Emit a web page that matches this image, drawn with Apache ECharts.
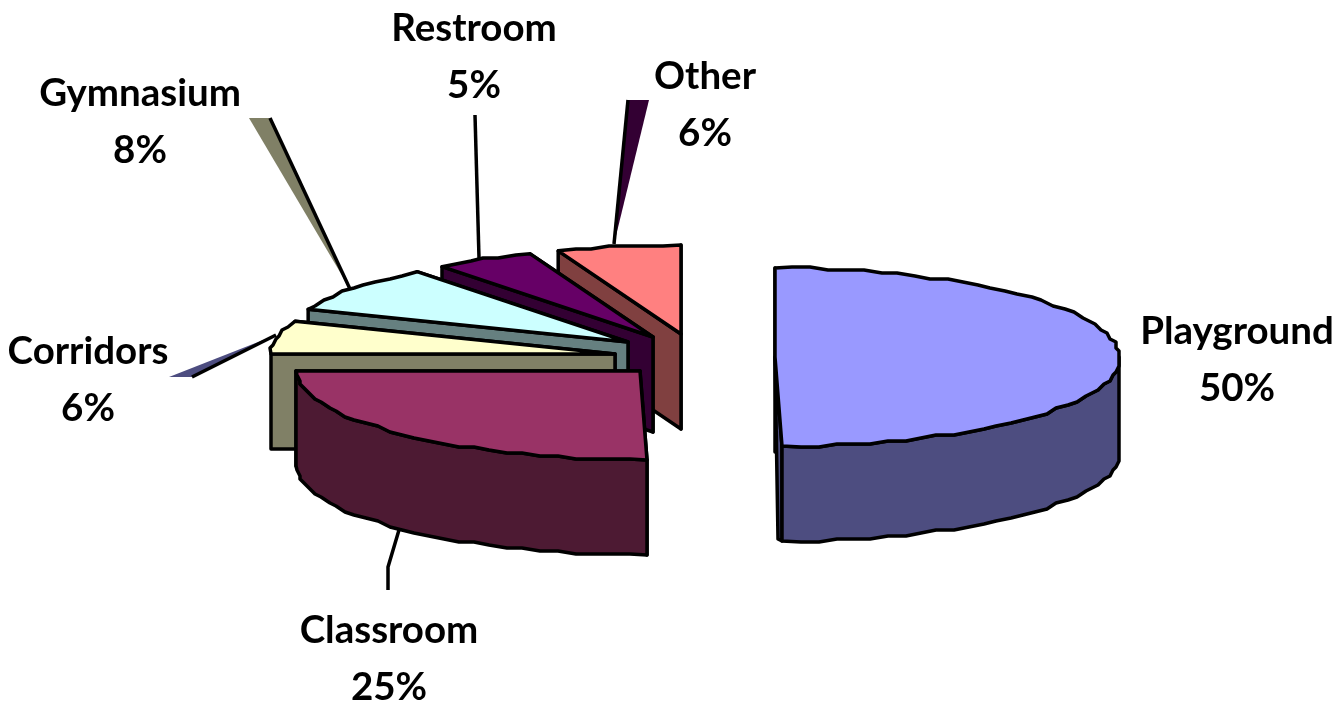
<!DOCTYPE html>
<html>
<head>
<meta charset="utf-8">
<style>html,body{margin:0;padding:0;background:#fff}#c{width:1337px;height:701px}</style>
<script src="https://cdn.jsdelivr.net/npm/echarts@6/dist/echarts.min.js"></script>
</head>
<body>
<div id="c"></div>
<script>
// --- data ---
const categories = ['Playground', 'Classroom', 'Corridors', 'Gymnasium', 'Restroom', 'Other'];
const values = [50, 25, 6, 8.49, 4.7, 5.81];

// --- styles ---
const topColors = ['#9999FF', '#993366', '#FFFFCC', '#CCFFFF', '#660066', '#FF8080'];
const sideColors = ['#4D4D80', '#4D1A33', '#808066', '#668080', '#330033', '#804040'];

// --- layout: exploded slice centres, label centres, callouts ---
const sliceCentreX = [775, 640, 615, 628, 653, 681];
const sliceCentreY = [357, 371, 354, 342, 337, 334];
const labelX = [1237, 389, 88, 140, 474, 705];
const labelY = [360, 659, 380, 122, 57, 105];
const wedgeFill = [null, null, '#4D4D80', '#808066', null, '#330033'];
const leaderPaths = [
  null,
  [[399, 530], [388, 567], [388, 590]],
  [[192, 377], [276, 335]],
  [[270, 118], [350, 289]],
  [[475, 115], [479, 258]],
  [[628, 100], [614, 244]]
];
const wedgeBase = [null, null, [169, 377], [249, 118], null, [649, 100]];
const RX = 344, RY = 89, DEPTH = 95, SKEW = 7, STEP = 3, EDGE = 3.5;

const total = values.reduce((a, b) => a + b, 0);
const rad = d => d * Math.PI / 180;

function rimPoint(i, deg) {
  const t = rad(deg);
  return [
    sliceCentreX[i] + RX * Math.sin(t) + SKEW * Math.max(0, -Math.cos(t)),
    sliceCentreY[i] - RY * Math.cos(t)
  ];
}
function arc(i, a0, a1) {
  // slightly stepped outline, as in the source raster
  const pts = [rimPoint(i, a0)];
  const n = Math.max(1, Math.round(Math.abs(a1 - a0) / 3));
  for (let k = 1; k < n; k++) {
    const p = rimPoint(i, a0 + (a1 - a0) * k / n);
    pts.push([Math.round(p[0] / STEP) * STEP, Math.round(p[1] / STEP) * STEP]);
  }
  pts.push(rimPoint(i, a1));
  return pts;
}
const down = p => [p[0], p[1] + DEPTH];

function renderItem(params, api) {
  const i = params.dataIndex;
  let before = 0;
  for (let k = 0; k < i; k++) before += values[k];
  const a0 = before / total * 360;
  const a1 = a0 + api.value(0) / total * 360;
  const c = [sliceCentreX[i], sliceCentreY[i]];
  const z = 10 * (i === 0 ? 7 : 7 - i); // back-to-front: Other ... Classroom
  const side = { fill: sideColors[i], stroke: '#000', lineWidth: EDGE, lineJoin: 'round' };
  const kids = [];
  const wall = (deg, zz) => {
    const o = rimPoint(i, deg);
    const b = down(o);
    // the inner corner of a wall facing front runs down close to the rim corner
    const inner = deg === 180 ? [b[0] - 4, b[1] - 2] : down(c);
    kids.push({ type: 'polygon', z2: z + zz, shape: { points: [c, o, b, inner] }, style: side });
  };
  wall(a1, 0);
  wall(a0, 1);
  const r0 = Math.max(a0, 90), r1 = Math.min(a1, 270);
  if (r1 > r0) {
    const upper = arc(i, r0, r1);
    const lower = upper.map(down).reverse();
    kids.push({ type: 'polygon', z2: z + 2, shape: { points: upper.concat(lower) }, style: side });
  }
  kids.push({
    type: 'polygon', z2: z + 3,
    shape: { points: [c].concat(arc(i, a0, a1)) },
    style: { fill: topColors[i], stroke: '#000', lineWidth: EDGE, lineJoin: 'round' }
  });
  if (wedgeFill[i]) {
    const lp = leaderPaths[i];
    kids.push({
      type: 'polygon', z2: 200,
      shape: { points: [wedgeBase[i]].concat(lp) },
      style: { fill: wedgeFill[i], stroke: null }
    });
  }
  if (leaderPaths[i]) {
    kids.push({
      type: 'polyline', z2: 201, shape: { points: leaderPaths[i] },
      style: { fill: null, stroke: '#000', lineWidth: EDGE }
    });
  }
  kids.push({
    type: 'text', z2: 210,
    style: {
      x: labelX[i], y: labelY[i],
      text: categories[i] + '\n' + Math.round(api.value(0) / total * 100) + '%',
      font: '700 38.5px Lato', lineHeight: 57,
      align: 'center', verticalAlign: 'middle', fill: '#000'
    }
  });
  return { type: 'group', children: kids };
}

const chart = echarts.init(document.getElementById('c'), null, { renderer: 'canvas' });
chart.setOption({
  animation: false,
  backgroundColor: '#fff',
  series: [{
    type: 'custom',
    coordinateSystem: 'none',
    silent: true,
    renderItem: renderItem,
    data: categories.map((name, i) => ({ name: name, value: [values[i]] }))
  }]
});
</script>
</body>
</html>
